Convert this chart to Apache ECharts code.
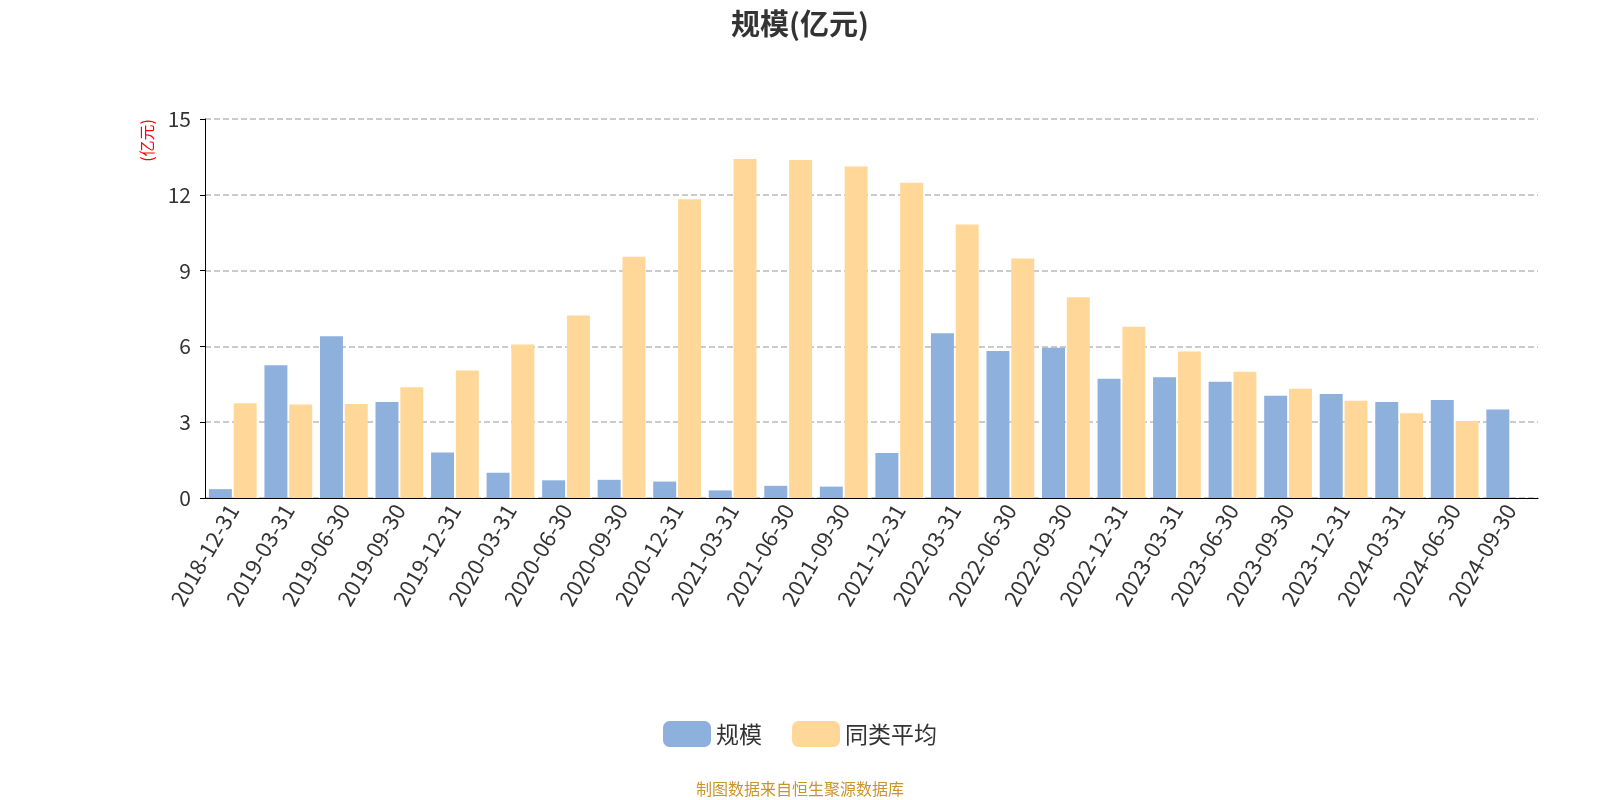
<!DOCTYPE html>
<html><head><meta charset="utf-8">
<script src="https://cdn.jsdelivr.net/npm/echarts@6/dist/echarts.min.js"></script>
<style>html,body{margin:0;padding:0;background:#fff}#main{width:1600px;height:800px}</style>
</head><body><div id="main"></div>
<script>
var dates = ['2018-12-31','2019-03-31','2019-06-30','2019-09-30','2019-12-31','2020-03-31','2020-06-30','2020-09-30','2020-12-31','2021-03-31','2021-06-30','2021-09-30','2021-12-31','2022-03-31','2022-06-30','2022-09-30','2022-12-31','2023-03-31','2023-06-30','2023-09-30','2023-12-31','2024-03-31','2024-06-30','2024-09-30'];
var scale = [0.35,5.25,6.4,3.8,1.8,1.0,0.7,0.72,0.65,0.3,0.48,0.45,1.78,6.52,5.82,5.95,4.72,4.78,4.6,4.05,4.12,3.8,3.88,3.5];
var peerAvg = [3.75,3.7,3.72,4.38,5.05,6.08,7.22,9.55,11.82,13.42,13.38,13.12,12.48,10.82,9.48,7.95,6.78,5.8,5.0,4.32,3.85,3.35,3.05,null];
var yTicks = [0,3,6,9,12,15];

var chart = echarts.init(document.getElementById('main'));
chart.setOption({
  textStyle: { fontFamily: '"Noto Sans CJK SC", "Noto Sans", sans-serif' },
  title: [
    { text: '规模(亿元)', left: 'center', top: 4, textStyle: { fontSize: 29, fontWeight: 'bold', color: '#333' } },
    { text: '制图数据来自恒生聚源数据库', left: 'center', top: 776, textStyle: { fontSize: 16, fontWeight: 'normal', color: '#c8952c' } }
  ],
  legend: {
    data: ['规模', '同类平均'], bottom: 48, itemWidth: 48, itemHeight: 26, itemGap: 30,
    textStyle: { fontSize: 23, color: '#333' }
  },
  grid: { left: 205, right: 62, top: 119, bottom: 302 },
  xAxis: {
    type: 'category', data: dates,
    axisLine: { lineStyle: { color: '#000' } },
    axisTick: { lineStyle: { color: '#000' } },
    axisLabel: { rotate: 60, fontSize: 22, color: '#333', interval: 0 }
  },
  yAxis: {
    type: 'value', min: yTicks[0], max: yTicks[yTicks.length - 1], interval: 3,
    name: '(亿元)', nameLocation: 'end', nameRotate: 90, nameGap: 0,
    nameTextStyle: { color: 'red', fontSize: 16, align: 'right', verticalAlign: 'bottom', padding: [0, 0, 50, 0] },
    axisLine: { show: true, lineStyle: { color: '#000' } },
    axisTick: { show: true, lineStyle: { color: '#000' } },
    axisLabel: { fontSize: 21, color: '#333', margin: 14 },
    splitLine: { lineStyle: { type: 'dashed', color: '#bbb', width: 1.5 } }
  },
  series: [
    { name: '规模', type: 'bar', data: scale, barGap: '8%', barCategoryGap: '14%',
      itemStyle: { color: '#8eb0dc' } },
    { name: '同类平均', type: 'bar', data: peerAvg,
      itemStyle: { color: '#ffd899' } }
  ]
});
</script></body></html>
